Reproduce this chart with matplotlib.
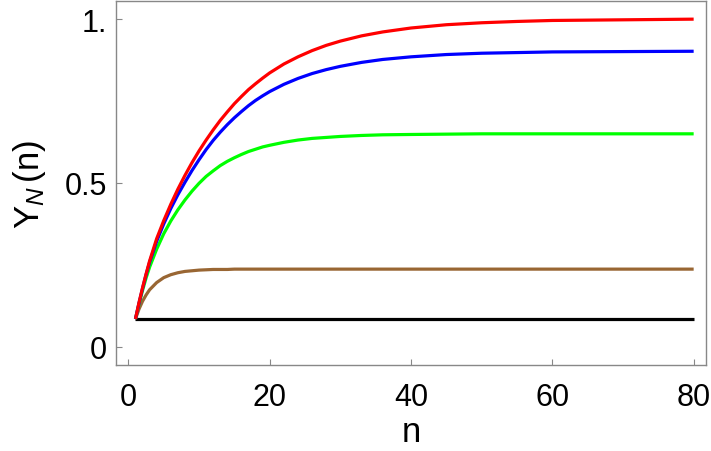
import numpy as np
import matplotlib
matplotlib.use("Agg")
import matplotlib.pyplot as plt

plt.rcParams['font.family'] = ['Liberation Sans', 'DejaVu Sans']
plt.rcParams['mathtext.fontset'] = 'custom'
plt.rcParams['mathtext.rm'] = 'Liberation Sans'
plt.rcParams['mathtext.it'] = 'Liberation Sans:italic'

# === Data ===
n_vals = [1, 1.5, 2, 2.5, 3, 4, 5, 6, 7, 8, 9, 10, 11, 12, 13, 14, 15, 16, 17, 18, 19, 20,
          22, 24, 26, 28, 30, 33, 36, 40, 45, 50, 55, 60, 70, 80]

y_red = [0.085, 0.135, 0.180, 0.222, 0.262, 0.330, 0.385, 0.435, 0.481, 0.523, 0.562, 0.598,
         0.631, 0.662, 0.691, 0.717, 0.742, 0.764, 0.785, 0.803, 0.820, 0.836,
         0.863, 0.885, 0.904, 0.920, 0.933, 0.949, 0.961, 0.973, 0.983, 0.989, 0.993, 0.996,
         0.998, 1.000]
y_blue = [0.085, 0.133, 0.178, 0.220, 0.258, 0.322, 0.375, 0.422, 0.464, 0.502, 0.538, 0.571,
          0.602, 0.630, 0.655, 0.678, 0.699, 0.718, 0.736, 0.752, 0.766, 0.779,
          0.801, 0.819, 0.834, 0.846, 0.856, 0.868, 0.877, 0.885, 0.892, 0.896, 0.898, 0.900,
          0.901, 0.902]
y_green = [0.085, 0.130, 0.172, 0.210, 0.243, 0.298, 0.345, 0.384, 0.418, 0.448, 0.475, 0.499,
           0.520, 0.537, 0.553, 0.566, 0.577, 0.587, 0.596, 0.603, 0.610, 0.615,
           0.624, 0.631, 0.636, 0.639, 0.642, 0.645, 0.647, 0.648, 0.649, 0.650, 0.650, 0.650,
           0.650, 0.650]
y_brown = [0.085, 0.115, 0.139, 0.158, 0.174, 0.196, 0.211, 0.220, 0.226, 0.230, 0.232, 0.234,
           0.235, 0.236, 0.236, 0.236, 0.237, 0.237, 0.237, 0.237, 0.237, 0.237,
           0.237, 0.237, 0.237, 0.237, 0.237, 0.237, 0.237, 0.237, 0.237, 0.237, 0.237, 0.237,
           0.237, 0.237]
y_black = [0.085] * len(n_vals)

series = [
    (y_black, "black"),
    (y_brown, "#996633"),
    (y_green, "#00ff00"),
    (y_blue, "#0000ff"),
    (y_red, "#ff0000"),
]

x_ticks = [0, 20, 40, 60, 80]
y_ticks = [0, 0.5, 1.0]
y_tick_labels = ["0", "0.5", "1."]

# === Plot ===
fig = plt.figure(figsize=(7.11, 4.52), dpi=100)
ax = fig.add_axes([0.1637, 0.190, 0.9925 - 0.1637, 0.996 - 0.190])

for ys, col in series:
    ax.plot(n_vals, ys, color=col, lw=2.3, solid_capstyle='butt', solid_joinstyle='round')

ax.set_xlim(-1.7, 81.7)
ax.set_ylim(-0.056, 1.056)
ax.set_xticks(x_ticks)
ax.set_yticks(y_ticks)
ax.set_yticklabels(y_tick_labels)

for sp in ax.spines.values():
    sp.set_color("#888888")
    sp.set_linewidth(1.0)

ax.tick_params(direction='in', length=4, width=0.8, color="#888888",
               labelsize=22, top=False, right=False)
ax.tick_params(axis='x', pad=12)
ax.tick_params(axis='y', pad=7)

ax.set_xlabel("n", fontsize=25, labelpad=2)
ax.set_ylabel(r"$\mathrm{Y}_{N}\,\mathrm{(n)}$", fontsize=25, labelpad=12)

fig.savefig("out.png", dpi=100)
